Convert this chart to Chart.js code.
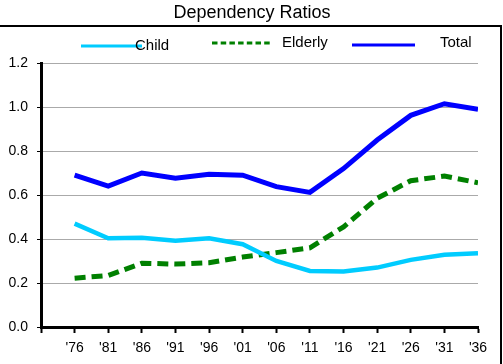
<!DOCTYPE html>
<html>
<head>
<meta charset="utf-8">
<script src="https://cdn.jsdelivr.net/npm/chart.js@4"></script>
<style>
  html, body { margin: 0; padding: 0; background: #fff; }
  canvas { display: block; }
</style>
</head>
<body>
<canvas id="myChart" width="503" height="364"></canvas>
<script>
const years = [1976, 1981, 1986, 1991, 1996, 2001, 2006, 2011, 2016, 2021, 2026, 2031, 2036];
const tickLabels = ["'76", "'81", "'86", "'91", "'96", "'01", "'06", "'11", "'16", "'21", "'26", "'31", "'36"];
const child = [0.47, 0.403, 0.406, 0.392, 0.403, 0.376, 0.30, 0.255, 0.252, 0.27, 0.305, 0.328, 0.335];
const elderly = [0.222, 0.234, 0.29, 0.286, 0.292, 0.318, 0.338, 0.36, 0.455, 0.585, 0.665, 0.686, 0.656];
const total = [0.69, 0.64, 0.70, 0.676, 0.694, 0.69, 0.638, 0.612, 0.72, 0.85, 0.962, 1.015, 0.99];

const ctx = document.getElementById('myChart');
const font = 'Liberation Sans, Arial, sans-serif';

function points(values) {
    return years.map((x, i) => ({ x: x, y: values[i] }));
}

// title, frame and the overlapping legend of the original
const decor = {
    id: 'decor',
    beforeDraw(chart) {
        const c = chart.ctx;
        c.save();
        c.fillStyle = '#fff';
        c.fillRect(0, 0, chart.width, chart.height);
        c.restore();
    },
    afterDraw(chart) {
        const c = chart.ctx;
        c.save();
        c.fillStyle = '#000';
        c.font = '18px ' + font;
        c.textAlign = 'center';
        c.textBaseline = 'middle';
        c.fillText('Dependency Ratios', 252, 13);

        c.strokeStyle = '#000';
        c.lineWidth = 2;
        c.beginPath();
        c.moveTo(0, 26);
        c.lineTo(501, 26);
        c.moveTo(501, 25);
        c.lineTo(501, 364);
        c.stroke();

        const spots = [
            { x1: 81, x2: 142, ly: 46, tx: 135, ty: 46, dash: [] },
            { x1: 212, x2: 272, ly: 43, tx: 282, ty: 43, dash: [5.5, 3.2] },
            { x1: 352, x2: 415, ly: 45, tx: 440, ty: 43, dash: [] }
        ];
        chart.data.datasets.forEach((ds, i) => {
            const s = spots[i];
            c.strokeStyle = ds.borderColor;
            c.lineWidth = 3;
            c.setLineDash(s.dash);
            c.beginPath();
            c.moveTo(s.x1, s.ly);
            c.lineTo(s.x2, s.ly);
            c.stroke();
            c.setLineDash([]);
            c.fillStyle = '#000';
            c.font = '15px ' + font;
            c.textAlign = 'left';
            c.fillText(ds.label, s.tx, s.ty);
        });
        c.restore();
    }
};

new Chart(ctx, {
    type: 'line',
    data: {
        datasets: [{
            label: 'Child',
            data: points(child),
            borderColor: '#00ccff',
            borderWidth: 4.5,
            pointRadius: 0,
            tension: 0
        }, {
            label: 'Elderly',
            data: points(elderly),
            borderColor: '#008000',
            borderWidth: 5,
            borderDash: [11, 6],
            pointRadius: 0,
            tension: 0
        }, {
            label: 'Total',
            data: points(total),
            borderColor: '#0000ff',
            borderWidth: 5,
            pointRadius: 0,
            tension: 0
        }]
    },
    options: {
        responsive: false,
        devicePixelRatio: 1,
        animation: false,
        layout: {
            padding: { top: 63, right: 25, left: 0, bottom: 0 }
        },
        plugins: {
            legend: { display: false },
            title: { display: false },
            tooltip: { enabled: false }
        },
        scales: {
            x: {
                type: 'linear',
                min: 1971,
                max: 2036,
                afterFit: function (scale) { scale.height = 37; },
                ticks: {
                    stepSize: 5,
                    autoSkip: false,
                    maxRotation: 0,
                    padding: 7,
                    color: '#000',
                    font: { family: font, size: 14 },
                    callback: function (v) {
                        const i = years.indexOf(v);
                        return i < 0 ? '' : tickLabels[i];
                    }
                },
                grid: {
                    drawOnChartArea: false,
                    tickLength: 6,
                    tickColor: '#000',
                    tickWidth: 2
                },
                border: { color: '#000', width: 3 }
            },
            y: {
                min: 0,
                max: 1.2,
                afterFit: function (scale) { scale.width = 41; },
                ticks: {
                    stepSize: 0.2,
                    padding: 9,
                    color: '#000',
                    font: { family: font, size: 14 },
                    callback: function (v) { return v.toFixed(1); }
                },
                grid: {
                    color: '#aaaaaa',
                    tickColor: '#000',
                    tickLength: 4
                },
                border: { color: '#000', width: 3 }
            }
        }
    },
    plugins: [decor]
});
</script>
</body>
</html>
